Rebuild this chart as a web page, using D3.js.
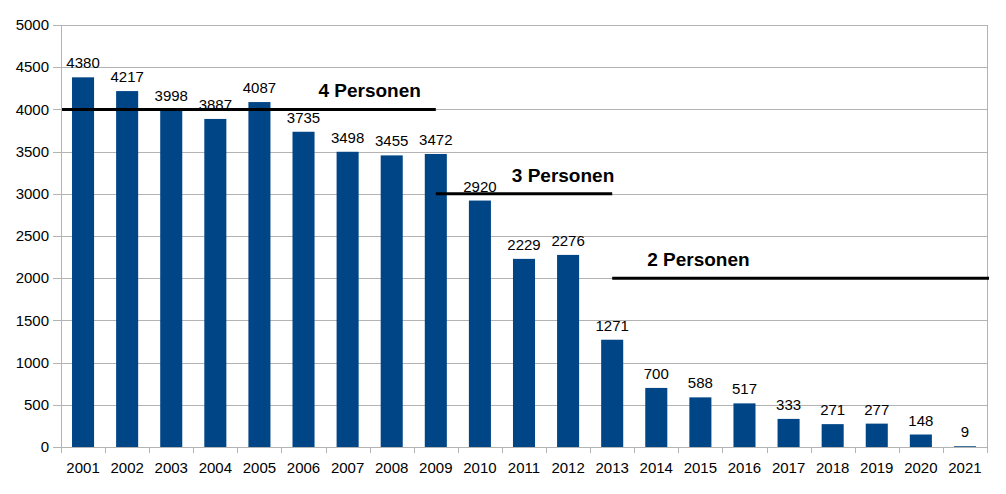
<!DOCTYPE html>
<html>
<head>
<meta charset="utf-8">
<script src="https://cdn.jsdelivr.net/npm/d3@7"></script>
<style>
html,body{margin:0;padding:0;background:#fff;}
svg{display:block;font-family:"Liberation Sans",Arial,sans-serif;}
</style>
</head>
<body>
<svg id="chart" width="1006" height="494"></svg>
<script>
const years = ["2001","2002","2003","2004","2005","2006","2007","2008","2009","2010","2011","2012","2013","2014","2015","2016","2017","2018","2019","2020","2021"];
const counts = [4380,4217,3998,3887,4087,3735,3498,3455,3472,2920,2229,2276,1271,700,588,517,333,271,277,148,9];
const yTicks = [0,500,1000,1500,2000,2500,3000,3500,4000,4500,5000];
const refLabels = ["4 Personen","3 Personen","2 Personen"];
const refValues = [4000,3000,2000];
const refFrom = [null,"2009","2013"];
const refTo = ["2009","2013",null];

(function(){
const svg = d3.select("#chart");
const pLeft = 61, pRight = 987, pTop = 25, pBottom = 447;

const x = d3.scaleBand().domain(years).range([pLeft, pRight]).paddingInner(0.5).paddingOuter(0.25);
const xb = d3.scaleBand().domain(years).range([pLeft, pRight]).padding(0);
const y = d3.scaleLinear().domain([0,5000]).range([pBottom, pTop]);

// gridlines
svg.append("g").selectAll("line").data(yTicks).join("line")
  .attr("x1", pLeft - 8).attr("x2", pRight)
  .attr("y1", d => Math.round(y(d)) + 0.5).attr("y2", d => Math.round(y(d)) + 0.5)
  .attr("stroke", "#b3b3b3").attr("stroke-width", 1);

// y labels
svg.append("g").selectAll("text").data(yTicks).join("text")
  .attr("x", pLeft - 12).attr("y", d => y(d)).attr("dy","0.35em")
  .attr("text-anchor","end").attr("font-size", 15).attr("fill","#000")
  .text(d => d);

// axis lines
svg.append("line").attr("x1", pLeft + 0.5).attr("x2", pLeft + 0.5).attr("y1", pTop).attr("y2", pBottom)
  .attr("stroke","#b3b3b3");
svg.append("line").attr("x1", pRight + 0.5).attr("x2", pRight + 0.5).attr("y1", pTop).attr("y2", pBottom)
  .attr("stroke","#b3b3b3");

// x ticks
const xTickPos = years.map(d => xb(d)).concat([pRight]);
svg.append("g").selectAll("line").data(xTickPos).join("line")
  .attr("x1", d => Math.round(d) + 0.5).attr("x2", d => Math.round(d) + 0.5)
  .attr("y1", pBottom).attr("y2", pBottom + 6)
  .attr("stroke","#b3b3b3");

// x labels
svg.append("g").selectAll("text").data(years).join("text")
  .attr("x", d => xb(d) + xb.bandwidth()/2).attr("y", pBottom + 26)
  .attr("text-anchor","middle").attr("font-size", 15).attr("fill","#000")
  .text(d => d);

// bars
svg.append("g").selectAll("rect").data(counts).join("rect")
  .attr("x", (d,i) => x(years[i]))
  .attr("width", x.bandwidth())
  .attr("y", d => y(d))
  .attr("height", d => y(0) - y(d))
  .attr("fill", "#004586");

// value labels
svg.append("g").selectAll("text").data(counts).join("text")
  .attr("x", (d,i) => x(years[i]) + x.bandwidth()/2)
  .attr("y", d => y(d) - 9)
  .attr("text-anchor","middle").attr("font-size", 15).attr("fill","#000")
  .text(d => d);

// reference lines
const cx = yr => xb(yr) + xb.bandwidth()/2;
const labelCenters = [xb("2008"), xb("2012") + 17, cx("2015") - 2];
refValues.forEach((v,i) => {
  const x1 = refFrom[i] ? cx(refFrom[i]) : pLeft + 1;
  const x2 = refTo[i] ? cx(refTo[i]) : pRight + 2;
  svg.append("line").attr("x1", x1).attr("x2", x2).attr("y1", y(v)).attr("y2", y(v))
    .attr("stroke","#000").attr("stroke-width", 3);
  svg.append("text").attr("x", labelCenters[i]).attr("y", y(v) - 12)
    .attr("text-anchor","middle").attr("font-size", 19).attr("font-weight","bold")
    .attr("fill","#000").text(refLabels[i]);
});
})();
</script>
</body>
</html>
